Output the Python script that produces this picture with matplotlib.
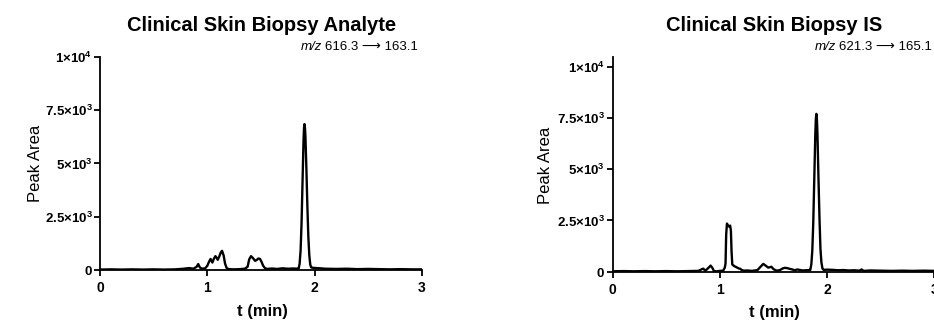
import matplotlib
matplotlib.use("Agg")
import matplotlib.pyplot as plt

plt.rcParams["font.family"] = ["Liberation Sans", "DejaVu Sans"]
plt.rcParams["mathtext.fontset"] = "custom"
plt.rcParams["mathtext.rm"] = "Liberation Sans"
plt.rcParams["mathtext.it"] = "Liberation Sans:italic"
plt.rcParams["mathtext.bf"] = "Liberation Sans:bold"

# analyte trace (time in min, peak area)
analyte_t = [0.0, 0.1, 0.2, 0.3, 0.4, 0.5, 0.6, 0.7, 0.78, 0.83, 0.87, 0.9, 0.915, 0.93,
             0.95, 0.98, 1.0, 1.015, 1.03, 1.047, 1.06, 1.075, 1.088, 1.097, 1.11, 1.125,
             1.137, 1.152, 1.165, 1.18, 1.2, 1.25, 1.3, 1.35, 1.375, 1.39, 1.407, 1.425,
             1.445, 1.46, 1.475, 1.491, 1.505, 1.52, 1.538, 1.56, 1.6, 1.65, 1.7, 1.75,
             1.8, 1.84, 1.851, 1.86, 1.869, 1.878, 1.887, 1.896, 1.901, 1.905, 1.91,
             1.914, 1.923, 1.932, 1.941, 1.95, 1.959, 1.968, 1.99, 2.02, 2.05, 2.1,
             2.2, 2.3, 2.4, 2.5, 2.6, 2.7, 2.8, 2.9, 3.0]
analyte_y = [20, 30, 20, 30, 20, 30, 20, 30, 60, 90, 60, 150, 280, 120,
             60, 80, 200, 380, 520, 350, 520, 650, 560, 480, 620, 820,
             900, 680, 300, 90, 40, 30, 40, 60, 150, 500, 650, 560,
             430, 470, 540, 520, 380, 200, 80, 50, 70, 50, 80, 60,
             70, 60, 75, 300, 925, 2230, 4160, 6045, 6680, 6850, 6660,
             6250, 4745, 3000, 1575, 690, 250, 120, 100, 90, 80, 60,
             50, 60, 40, 50, 40, 30, 40, 30, 30]

# internal standard trace
is_t = [0.0, 0.1, 0.2, 0.3, 0.4, 0.5, 0.6, 0.7, 0.8, 0.83, 0.845, 0.86, 0.875, 0.895,
        0.913, 0.93, 0.944, 0.97, 1.0, 1.03, 1.045, 1.052, 1.058, 1.065, 1.075, 1.085,
        1.095, 1.102, 1.108, 1.115, 1.134, 1.15, 1.16, 1.175, 1.19, 1.2, 1.22, 1.25,
        1.3, 1.35, 1.38, 1.404, 1.43, 1.45, 1.48, 1.5, 1.53, 1.56, 1.585, 1.606,
        1.63, 1.65, 1.68, 1.7, 1.72, 1.74, 1.77, 1.8, 1.83, 1.842, 1.852, 1.861,
        1.87, 1.88, 1.889, 1.894, 1.899, 1.904, 1.909, 1.918, 1.928, 1.937, 1.946,
        1.956, 1.966, 2.0, 2.05, 2.1, 2.15, 2.2, 2.25, 2.3, 2.32, 2.34, 2.4, 2.5,
        2.6, 2.7, 2.8, 2.9, 3.0]
is_y = [20, 30, 20, 30, 20, 30, 20, 30, 40, 120, 150, 60, 100, 200,
        300, 180, 30, 20, 40, 50, 200, 400, 1800, 2350, 2250, 2200,
        2250, 2000, 1000, 350, 270, 230, 200, 160, 140, 90, 50, 60,
        40, 80, 250, 380, 280, 200, 240, 120, 50, 80, 160, 190,
        170, 140, 100, 70, 110, 90, 60, 70, 80, 85, 360, 1040,
        2400, 4670, 6710, 7440, 7700, 7440, 6710, 4670, 2600, 1100, 450,
        150, 90, 100, 90, 70, 80, 60, 70, 50, 110, 40, 60, 50,
        40, 50, 40, 50, 40]

y_ticks = [0, 2500, 5000, 7500, 10000]
y_tick_labels = [r"$\mathbf{0}$", r"$\mathbf{2.5{\times}10^{3}}$", r"$\mathbf{5{\times}10^{3}}$",
                 r"$\mathbf{7.5{\times}10^{3}}$", r"$\mathbf{1{\times}10^{4}}$"]
x_ticks = [0, 1, 2, 3]

panels = [
    {"t": analyte_t, "y": analyte_y, "title": "Clinical Skin Biopsy Analyte",
     "mz": "616.3 ⟶ 163.1", "rect": [0.1071, 0.1615, 0.3447, 0.6615], "ytop": 10000,
     "ylab": (-0.20, 0.50), "xlab": (0.505, -0.197), "title_x": 0.2805, "mz_x": 0.4475},
    {"t": is_t, "y": is_y, "title": "Clinical Skin Biopsy IS",
     "mz": "621.3 ⟶ 165.1", "rect": [0.656, 0.1562, 0.3445, 0.6668], "ytop": 10473,
     "ylab": (-0.21, 0.497), "xlab": (0.504, -0.188), "title_x": 0.8287, "mz_x": 0.998},
]

fig = plt.figure(figsize=(9.34, 3.22), dpi=100)
mz_texts = []

for p in panels:
    ax = fig.add_axes(p["rect"])
    ax.plot(p["t"], p["y"], color="black", lw=1.7, solid_joinstyle="round")
    ax.set_xlim(0, 3)
    ax.set_ylim(0, p["ytop"])
    ax.set_xticks(x_ticks)
    ax.set_xticklabels([str(v) for v in x_ticks], fontweight="bold", fontsize=10)
    ax.set_yticks(y_ticks)
    ax.set_yticklabels(y_tick_labels, fontsize=9.5)
    ax.tick_params(direction="out", length=4, width=1.3)
    ax.tick_params(axis="x", pad=4)
    ax.tick_params(axis="y", pad=1.5)
    for side in ["top", "right"]:
        ax.spines[side].set_visible(False)
    for side in ["left", "bottom"]:
        ax.spines[side].set_linewidth(1.3)
    ax.set_ylabel("Peak Area", fontsize=12, va="center", ha="center")
    ax.yaxis.set_label_coords(*p["ylab"])
    ax.set_xlabel("t (min)", fontsize=12, fontweight="bold", va="center")
    ax.xaxis.set_label_coords(*p["xlab"])

    fig.text(p["title_x"], 0.922, p["title"], ha="center", va="center",
             fontsize=14.5, fontweight="bold")
    mz_texts.append(fig.text(p["mz_x"], 0.854, p["mz"], ha="right", va="center",
                             fontsize=9.5))

# put the italic "m/z" just left of each transition label
renderer = fig.canvas.get_renderer()
for txt in mz_texts:
    bb = txt.get_window_extent(renderer)
    fig.text((bb.x0 - 3) / fig.bbox.width, 0.854, "m/z", ha="right", va="center",
             fontsize=9.5, style="italic")

fig.savefig("out.png", dpi=100)
